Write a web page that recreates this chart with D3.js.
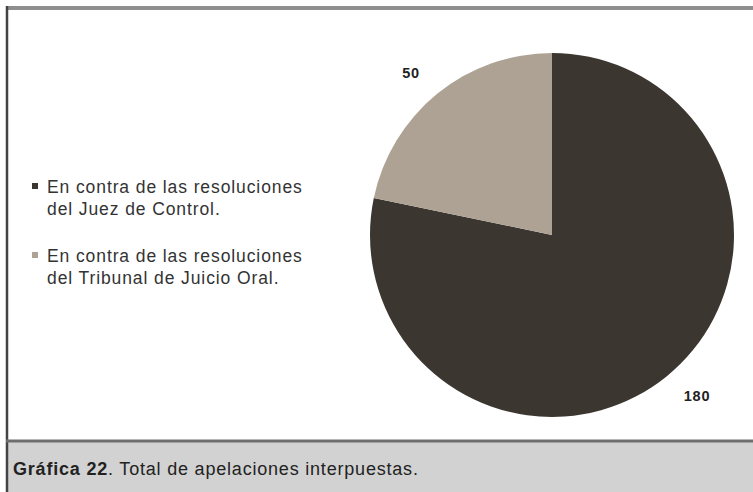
<!DOCTYPE html>
<html><head><meta charset="utf-8">
<script src="https://cdn.jsdelivr.net/npm/d3@7"></script>
<style>body{margin:0;background:#fff}svg{display:block}</style>
</head><body>
<svg id="c" width="753" height="492"></svg>
<script>
const categories = ["En contra de las resoluciones del Juez de Control.", "En contra de las resoluciones del Tribunal de Juicio Oral."];
const legendLines = [["En contra de las resoluciones", "del Juez de Control."], ["En contra de las resoluciones", "del Tribunal de Juicio Oral."]];
const values = [180, 50];
const colors = ["#3c3630", "#aea295"];
const caption = "Total de apelaciones interpuestas.";
const captionBold = "Gráfica 22";

const svg = d3.select("#c");
const FONT = "Liberation Sans, Arial, sans-serif";
// frame
svg.append("rect").attr("x",0).attr("y",0).attr("width",753).attr("height",492).attr("fill","#fff");
svg.append("rect").attr("x",7).attr("y",442).attr("width",746).attr("height",50).attr("fill","#d2d2d2");
svg.append("line").attr("x1",6).attr("x2",753).attr("y1",8).attr("y2",8).attr("stroke","#8e8e8e").attr("stroke-width",4);
svg.append("line").attr("x1",7).attr("x2",7).attr("y1",6).attr("y2",492).attr("stroke","#444").attr("stroke-width",2.5);
svg.append("line").attr("x1",6).attr("x2",753).attr("y1",441).attr("y2",441).attr("stroke","#6e6e6e").attr("stroke-width",3);

const cx = 552, cy = 235, r = 182;
const pie = d3.pie().sort(null)(values);
const arc = d3.arc().innerRadius(0).outerRadius(r);
const g = svg.append("g").attr("transform",`translate(${cx},${cy})`);
g.selectAll("path").data(pie).join("path").attr("d",arc).attr("fill",(d,i)=>colors[i]);

// labels
const labelPos = [[145,162],[-141,-161]];
g.selectAll("text.v").data(pie).join("text").attr("class","v")
  .attr("x",(d,i)=>labelPos[i][0]).attr("y",(d,i)=>labelPos[i][1])
  .attr("text-anchor","middle").attr("dominant-baseline","middle")
  .attr("font-family",FONT).attr("font-size",14.5).attr("font-weight","bold").attr("letter-spacing",0.8).attr("fill","#222")
  .text(d=>d.data);

// legend
const lg = svg.append("g").attr("font-family",FONT).attr("font-size",17.5).attr("letter-spacing",0.9).attr("fill","#333");
legendLines.forEach((lines,i)=>{
  const y0 = 193 + i*69;
  lg.append("rect").attr("x",32).attr("y",y0-10).attr("width",6).attr("height",6).attr("fill",colors[i]);
  lines.forEach((t,j)=>{
    lg.append("text").attr("x",47).attr("y",y0+j*22).text(t);
  });
});

// caption
const cap = svg.append("text").attr("x",13).attr("y",475).attr("font-family",FONT).attr("font-size",18).attr("letter-spacing",0.8).attr("fill","#222");
cap.append("tspan").attr("font-weight","bold").text(captionBold);
cap.append("tspan").text(". " + caption);
</script>
</body></html>
